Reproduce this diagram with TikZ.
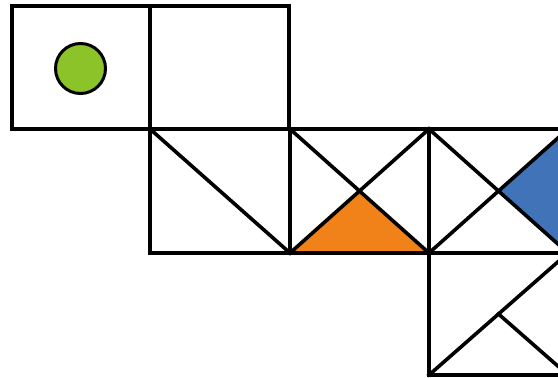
\documentclass[tikz,border=0pt]{standalone}
\begin{document}
\begin{tikzpicture}[x=1pt,y=-1pt,
  edge/.style={line width=3.6pt,line join=miter,line cap=rect,black}]
\definecolor{gfill}{RGB}{140,195,40}
\definecolor{ofill}{RGB}{240,130,25}
\definecolor{bfill}{RGB}{65,115,185}
\useasboundingbox (0,0) rectangle (558,378);
\clip (0,0) rectangle (558,378);
\fill[white] (0,0) rectangle (558,378);
% fills
\fill[ofill] (290,253) -- (359.5,191) -- (429,253) -- cycle;
\fill[bfill] (498.5,191) -- (568,129) -- (568,253) -- cycle;
% top row
\draw[edge] (12,6) rectangle (150,129);
\draw[edge] (150,6) rectangle (289,129);
% middle row
\draw[edge] (150,129) rectangle (290,253);
\draw[edge] (150,129) -- (290,253);
\draw[edge] (290,129) rectangle (429,253);
\draw[edge] (290,129) -- (429,253);
\draw[edge] (290,253) -- (429,129);
\draw[edge] (429,129) rectangle (568,253);
\draw[edge] (429,129) -- (568,253);
\draw[edge] (429,253) -- (568,129);
% bottom row
\draw[edge] (429,253) rectangle (568,375);
\draw[edge] (429,375) -- (568,253);
\draw[edge] (498.5,314) -- (568,375);
% green circle
\draw[line width=3pt,fill=gfill] (80.5,68.5) circle (25);
\end{tikzpicture}
\end{document}
